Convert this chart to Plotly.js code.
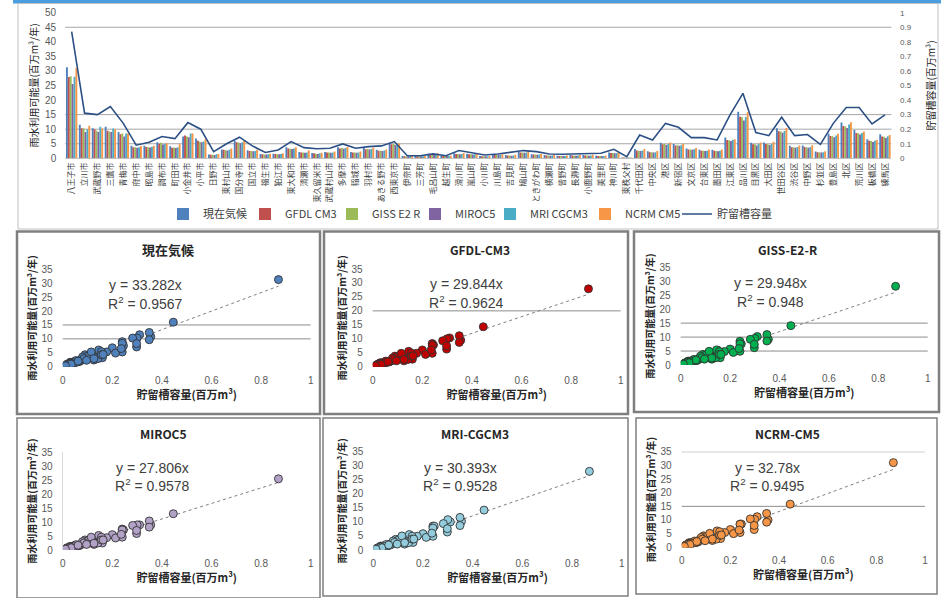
<!DOCTYPE html>
<html><head><meta charset="utf-8">
<script src="https://cdn.plot.ly/plotly-3.0.1.min.js"></script>
<style>html,body{margin:0;padding:0;background:#fff}#c{width:948px;height:598px}</style>
</head><body><div id="c"></div>
<script>
// ---------- data ----------
const municipalities = [
 "八王子市","立川市","武蔵野市","三鷹市","青梅市","府中市","昭島市","調布市","町田市","小金井市",
 "小平市","日野市","東村山市","国分寺市","国立市","福生市","狛江市","東大和市","清瀬市","東久留米市",
 "武蔵村山市","多摩市","稲城市","羽村市","あきる野市","西東京市",
 "伊奈町","三芳町","毛呂山町","越生町","滑川町","嵐山町","小川町","川島町","吉見町","鳩山町",
 "ときがわ町","横瀬町","皆野町","長瀞町","小鹿野町","美里町","神川町","東秩父村",
 "千代田区","中央区","港区","新宿区","文京区","台東区","墨田区","江東区","品川区","目黒区",
 "大田区","世田谷区","渋谷区","中野区","杉並区","豊島区","北区","荒川区","板橋区","練馬区"
];
const seriesNames = ["現在気候","GFDL CM3","GISS E2 R","MIROC5","MRI CGCM3","NCRM CM5"];
const panelTitles = ["現在気候","GFDL-CM3","GISS-E2-R","MIROC5","MRI-CGCM3","NCRM-CM5"];
const storageName = "貯留槽容量";
const storage = [0.87,0.31,0.30,0.355,0.24,0.09,0.11,0.15,0.135,0.245,0.20,0.046,0.10,0.145,0.085,0.04,0.057,0.115,0.073,0.066,
 0.069,0.099,0.069,0.08,0.085,0.115,0.018,0.018,0.03,0.018,0.053,0.039,0.023,0.03,0.039,0.053,0.046,0.03,0.028,0.03,0.03,0.035,0.062,0.011,
 0.16,0.126,0.24,0.213,0.142,0.142,0.126,0.298,0.446,0.177,0.156,0.282,0.156,0.163,0.096,0.24,0.349,0.349,0.236,0.298];
const current = [31.3,11.5,10.3,10.8,9.0,4.3,4.3,5.5,4.1,7.5,6.8,1.3,3.0,6.0,2.8,1.5,1.6,3.8,2.2,1.8,
 2.2,3.8,2.2,3.5,2.9,5.3,0.8,0.8,1.6,0.9,1.7,1.6,0.8,1.3,1.1,2.2,1.4,1.1,0.9,1.1,1.1,0.9,2.0,0.3,
 3.2,2.4,5.3,4.9,3.4,2.9,2.9,7.1,16.0,5.3,5.4,10.3,4.3,4.4,2.3,8.4,12.3,9.7,6.5,8.3];
const gfdl = [27.9,10.3,10.0,9.5,8.3,3.8,3.9,5.0,3.6,7.8,6.0,1.2,2.9,5.5,2.5,1.4,1.5,3.4,2.0,1.7,
 2.0,3.4,2.0,3.1,2.6,4.8,0.7,0.7,1.4,0.8,1.5,1.4,0.7,1.2,1.0,2.0,1.3,1.0,0.8,1.0,1.0,0.8,1.8,0.3,
 2.7,2.1,4.8,4.4,3.0,2.6,2.6,6.3,14.3,4.8,4.9,9.3,3.8,3.9,2.1,7.7,11.1,8.7,6.0,7.5];
const giss = [28.2,10.2,9.5,9.2,8.5,3.8,3.8,5.3,3.7,7.5,5.7,1.2,2.8,5.4,2.5,1.3,1.5,3.3,2.0,1.6,
 2.0,3.5,2.0,3.2,2.6,4.9,0.7,0.7,1.4,0.8,1.5,1.4,0.7,1.2,1.0,2.0,1.3,1.0,0.8,1.0,1.0,0.8,1.8,0.3,
 2.6,2.1,4.9,4.5,3.0,2.6,2.5,6.2,14.1,4.8,4.8,9.2,3.8,3.8,2.1,7.6,10.9,8.6,5.9,7.4];
const miroc = [25.5,9.0,9.0,9.0,7.5,3.6,3.7,4.7,3.5,7.2,5.5,1.1,2.7,5.2,2.4,1.3,1.4,3.2,1.9,1.5,
 1.9,3.3,1.9,3.0,2.5,4.6,0.7,0.7,1.3,0.8,1.4,1.3,0.7,1.1,0.9,1.9,1.2,0.9,0.8,0.9,0.9,0.8,1.7,0.3,
 2.5,2.0,4.6,4.3,2.9,2.5,2.4,5.9,13.0,4.4,4.6,8.8,3.6,3.6,2.0,7.2,10.4,8.2,5.6,7.0];
const mri = [28.0,10.0,10.8,10.2,8.5,3.8,4.0,5.0,3.8,8.5,5.8,1.4,2.9,5.5,2.5,1.4,1.5,3.4,2.0,1.7,
 2.0,3.5,2.0,3.2,2.7,5.0,0.7,0.7,1.4,0.8,1.5,1.4,0.7,1.2,1.0,2.0,1.3,1.0,0.8,1.0,1.0,0.8,1.8,0.3,
 2.7,2.1,4.9,4.5,3.1,2.6,2.6,6.4,14.2,4.9,4.9,9.4,3.9,3.9,2.1,7.8,11.6,8.7,6.0,7.6];
const ncrm = [31.0,11.2,10.2,10.0,8.5,4.2,4.3,5.2,4.8,8.5,6.5,1.5,3.4,6.0,2.9,1.6,1.7,3.8,2.7,1.9,
 2.3,3.9,2.3,3.6,3.0,5.1,0.8,0.8,1.7,0.9,1.8,1.7,0.8,1.4,1.2,2.3,1.5,1.2,1.0,1.2,1.2,1.0,2.1,0.3,
 3.2,2.5,5.4,5.0,3.5,3.0,3.0,6.5,15.8,5.4,5.7,10.4,4.4,4.5,2.4,8.4,12.4,9.2,6.3,8.0];
const slopes = [33.282,29.844,29.948,27.806,30.393,32.78];
const r2Labels = ["0.9567","0.9624","0.948","0.9578","0.9528","0.9495"];
const leftTitle = "雨水利用可能量(百万m³/年)";
const rightTitle = "貯留槽容量(百万m³)";
const scatterYTitle = "雨水利用可能量(百万m³/年)";
const scatterXTitle = "貯留槽容量(百万m³)";

// ---------- styling ----------
const W = 948, H = 598;
const px = x => x / W, py = y => 1 - y / H;
const FONT = "Liberation Sans, Noto Sans CJK JP, sans-serif";
const JFONT = "Noto Sans CJK JP, Liberation Sans, sans-serif";
const barColors = ["#4F81BD","#C0504D","#9BBB59","#8064A2","#4BACC6","#F79646"];
const dotColors = ["#4F81BD","#C00000","#00B050","#B3A2C7","#93CDDD","#F79646"];
const allSeries = [current, gfdl, giss, miroc, mri, ncrm];
// legend text start positions (px) for each entry
const legendTextX = [203, 285, 372, 455, 530, 625, 717];
const legendIds = ["legend","legend2","legend3","legend4","legend5","legend6","legend7"];

const traces = [];
allSeries.forEach((s, i) => {
  traces.push({type:"bar", name:seriesNames[i], x:municipalities, y:s, xaxis:"x", yaxis:"y",
    marker:{color:barColors[i]}, legend:legendIds[i]});
});
traces.push({type:"scatter", mode:"lines", name:storageName, x:municipalities, y:storage, xaxis:"x", yaxis:"y2",
  line:{color:"#2C4F85", width:1.6}, legend:legendIds[6]});

// panel geometry in pixels: [x0, x1, yTop(35), yBottom(0)]
const panels = [
  [62.7,310.7,269.3,366.7],[372.7,620.7,269,366.7],[680.7,927.7,267.3,365],
  [62.7,310.7,452.3,550],[373.3,621.7,451.7,550],[681.7,925,451.7,547.3]
];
const panelTitlePos = [[168,250],[480,249],[787,249],[163,433],[475,433],[787,433]];
const eqPos = [[145,285,303],[466,284,302],[770,283,301],[152,468,485],[460,468,485],[767,468,485]];
const gridVals = [[15,10],[20],[15,10,5],[],[],[35,15]];
const xmax = Math.max(...storage);

const layout = {
  width:W, height:H, margin:{l:0,r:0,t:0,b:0}, paper_bgcolor:"#fff", plot_bgcolor:"rgba(0,0,0,0)",
  font:{family:FONT, size:11, color:"#404040"},
  barmode:"group", bargap:0.12, bargroupgap:0,
  showlegend:true,
  xaxis:{domain:[px(65.2), px(891.4)], anchor:"y", type:"category", range:[-0.5, municipalities.length-0.5],
    tickmode:"array", tickvals:municipalities, ticktext:municipalities, tickangle:-90,
    tickfont:{family:JFONT, size:8, color:"#404040"}, showline:true, linecolor:"#BFBFBF", ticks:"", showgrid:false},
  yaxis:{domain:[py(158.3), py(12.7)], anchor:"x", range:[0,50], dtick:5, showgrid:false, zeroline:false,
    ticks:"outside", ticklen:6, tickcolor:"rgba(0,0,0,0)", tickfont:{size:10, color:"#595959"},
    title:{text:leftTitle, font:{family:JFONT, size:10, color:"#262626"}, standoff:4}},
  yaxis2:{overlaying:"y", side:"right", anchor:"x", range:[0,1], dtick:0.1, showgrid:false, zeroline:false,
    ticks:"outside", ticklen:6, tickcolor:"rgba(0,0,0,0)", tickfont:{size:8, color:"#595959"},
    title:{text:rightTitle, font:{family:JFONT, size:10, color:"#262626"}, standoff:17}},
  shapes:[], annotations:[]
};
legendIds.forEach((id, k) => {
  layout[id] = {orientation:"h", x:px(legendTextX[k]-40), xanchor:"left", y:py(214), yanchor:"middle",
    font:{family:JFONT, size:11, color:"#404040"}, itemwidth:30, bgcolor:"rgba(0,0,0,0)"};
});

// top chart gridlines
[45,15,10,5].forEach(v => layout.shapes.push({type:"line", xref:"x domain", yref:"y", x0:0, x1:1, y0:v, y1:v,
  line:{color:"#A6A6A6", width:1}, layer:"below"}));

panels.forEach((p, i) => {
  const n = i + 3, xa = "xaxis" + n, ya = "yaxis" + n, xr = "x" + n, yr = "y" + n;
  layout[xa] = {domain:[px(p[0]), px(p[1])], anchor:yr, range:[0,1], dtick:0.2, showgrid:false, zeroline:false,
    showline:false, ticks:"outside", ticklen:4, tickcolor:"rgba(0,0,0,0)", tickfont:{size:10, color:"#595959"},
    title:{text:scatterXTitle, font:{family:JFONT, size:11, weight:"bold", color:"#262626"}, standoff:4}};
  layout[ya] = {domain:[py(p[3]), py(p[2])], anchor:xr, range:[0,35], dtick:5, showgrid:false, zeroline:false,
    showline:(i===3), linecolor:"#D9D9D9",
    ticks:"outside", ticklen:7, tickcolor:"rgba(0,0,0,0)", tickfont:{size:10, color:"#595959"},
    title:{text:scatterYTitle, font:{family:JFONT, size:10, weight:"bold", color:"#262626"}, standoff:3}};
  gridVals[i].forEach(v => layout.shapes.push({type:"line", xref:xr+" domain", yref:yr, x0:0, x1:1, y0:v, y1:v,
    line:{color:"#8C8C8C", width:1}, layer:"below"}));
  traces.push({type:"scatter", mode:"lines", x:[0, xmax], y:[0, slopes[i]*xmax], xaxis:xr, yaxis:yr,
    line:{color:"#7F7F7F", width:1, dash:"dot"}, showlegend:false, hoverinfo:"skip"});
  traces.push({type:"scatter", mode:"markers", name:panelTitles[i], x:storage, y:allSeries[i], xaxis:xr, yaxis:yr,
    marker:{color:dotColors[i], size:8, line:{color:"#333333", width:0.9}}, showlegend:false});
  const tp = panelTitlePos[i];
  layout.annotations.push({xref:"paper", yref:"paper", x:px(tp[0]), y:py(tp[1]), xanchor:"center", yanchor:"middle",
    text:panelTitles[i], showarrow:false, font:{family:JFONT, size:i===0?13:12, weight:"bold", color:"#262626"}});
  const e = eqPos[i];
  layout.annotations.push({xref:"paper", yref:"paper", x:px(e[0]), y:py(e[1]), xanchor:"center", yanchor:"middle",
    text:"y = "+slopes[i]+"x", showarrow:false, font:{size:14, color:"#404040"}});
  layout.annotations.push({xref:"paper", yref:"paper", x:px(e[0]), y:py(e[2]), xanchor:"center", yanchor:"middle",
    text:"R<sup>2</sup> = "+r2Labels[i], showarrow:false, font:{size:14, color:"#404040"}});
});

// frames
const frame = (x0,y0,x1,y1,c,w) => layout.shapes.push({type:"rect", xref:"paper", yref:"paper",
  x0:px(x0), x1:px(x1), y0:py(y1), y1:py(y0), line:{color:c, width:w}, fillcolor:"rgba(0,0,0,0)", layer:"below"});
layout.shapes.push({type:"rect", xref:"paper", yref:"paper", x0:px(13), x1:px(941), y0:py(3.5), y1:py(0),
  line:{width:0}, fillcolor:"#4A9EE0", layer:"below"});
frame(18,3.5,938,229,"#BFBFBF",1);
frame(17,231.5,320,414,"#7F7F7F",2.5);
frame(324,231.5,628,414,"#7F7F7F",2.5);
frame(634,231.5,939,412,"#7F7F7F",2.5);
frame(17,418,320,598,"#7F7F7F",1.5);
frame(323,418,628,596,"#7F7F7F",1.5);
frame(636,418,937,594,"#7F7F7F",1.5);

Plotly.newPlot("c", traces, layout, {staticPlot:true, displayModeBar:false});
</script></body></html>
